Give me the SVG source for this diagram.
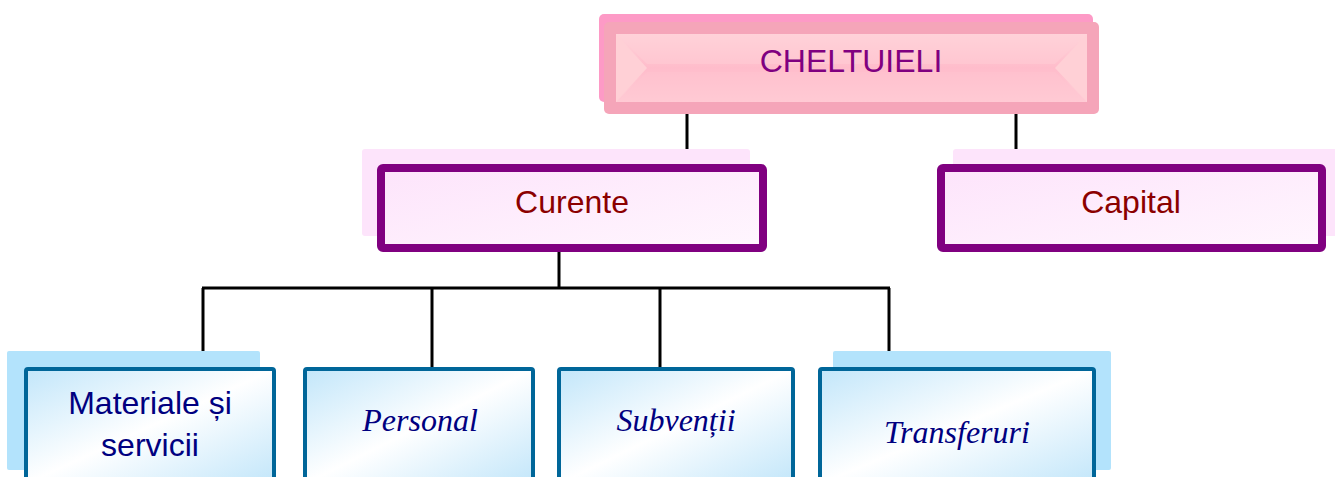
<svg xmlns="http://www.w3.org/2000/svg" width="1335" height="477" viewBox="0 0 1335 477">
<defs>
<linearGradient id="gPurple" x1="0" y1="0" x2="1" y2="1">
<stop offset="0" stop-color="#fde4fb"/>
<stop offset="1" stop-color="#fff6fe"/>
</linearGradient>
<linearGradient id="gBlue" x1="0" y1="0" x2="1" y2="1">
<stop offset="0" stop-color="#c2e6fa"/>
<stop offset="0.5" stop-color="#ffffff"/>
<stop offset="1" stop-color="#c2e6fa"/>
</linearGradient>
<linearGradient id="gPinkV" x1="0" y1="0" x2="0" y2="1">
<stop offset="0" stop-color="#ffd6dc"/>
<stop offset="0.5" stop-color="#ffbccb"/>
<stop offset="1" stop-color="#ffd0d8"/>
</linearGradient>
</defs>
<style>
.conn{stroke:#000;stroke-width:3;fill:none}
.shadowP{fill:#fde4fb}
.boxP{fill:url(#gPurple);stroke:#800080;stroke-width:8}
.shadowB{fill:#b3e3fc}
.boxB{fill:url(#gBlue);stroke:#006699;stroke-width:4}
.tP{font-family:"Liberation Sans",Arial,sans-serif;font-size:32px;fill:#8b0000;text-anchor:middle}
.tTop{font-family:"Liberation Sans",Arial,sans-serif;font-size:32px;fill:#800080;text-anchor:middle}
.tS{font-family:"Liberation Sans",Arial,sans-serif;font-size:32px;fill:#000080;text-anchor:middle}
.tI{font-family:"Liberation Serif","Times New Roman",serif;font-size:32px;font-style:italic;fill:#000080;text-anchor:middle}
</style>
<g id="connectors">
<line class="conn" x1="687" y1="108" x2="687" y2="149"/>
<line class="conn" x1="1016" y1="108" x2="1016" y2="149"/>
<line class="conn" x1="559" y1="252" x2="559" y2="288"/>
<line class="conn" x1="202" y1="288" x2="890" y2="288"/>
<line class="conn" x1="203" y1="288" x2="203" y2="351"/>
<line class="conn" x1="432" y1="288" x2="432" y2="367"/>
<line class="conn" x1="660" y1="288" x2="660" y2="367"/>
<line class="conn" x1="889" y1="288" x2="889" y2="351"/>
</g>
<g id="cheltuieli">
<rect x="599" y="14" width="494" height="88" rx="5" fill="#fd9ac6"/>
<rect x="604" y="22" width="495" height="92" rx="5" fill="#f5a5b9"/>
<rect x="616" y="34" width="471" height="68" fill="url(#gPinkV)"/>
<polygon points="616,34 647,68 616,102" fill="#ffd0d6"/>
<polygon points="1087,34 1055,68 1087,102" fill="#ffd0d6"/>
<polygon points="616,34 1087,34 1055,64 647,64" fill="#ffcdd5" opacity="0.5"/>
<polygon points="616,102 1087,102 1055,72 647,72" fill="#ffc4cf" opacity="0.5"/>
<text class="tTop" x="851" y="72">CHELTUIELI</text>
</g>
<g id="curente">
<rect class="shadowP" x="362" y="149" width="388" height="87" rx="3"/>
<rect class="boxP" x="381" y="168" width="382" height="80" rx="2"/>
<text class="tP" x="572" y="213">Curente</text>
</g>
<g id="capital">
<rect class="shadowP" x="953" y="149" width="385" height="87" rx="3"/>
<rect class="boxP" x="941" y="168" width="381" height="80" rx="2"/>
<text class="tP" x="1131" y="213">Capital</text>
</g>
<g id="materiale">
<rect class="shadowB" x="7" y="351" width="253" height="119" rx="2"/>
<rect class="boxB" x="26" y="369" width="248" height="115" rx="2"/>
<text class="tS" x="150" y="414">Materiale și</text>
<text class="tS" x="150" y="456">servicii</text>
</g>
<g id="personal">
<rect class="boxB" x="305" y="369" width="228" height="115" rx="2"/>
<text class="tI" x="420" y="431">Personal</text>
</g>
<g id="subventii">
<rect class="boxB" x="559" y="369" width="234" height="115" rx="2"/>
<text class="tI" x="676" y="431">Subvenții</text>
</g>
<g id="transferuri">
<rect class="shadowB" x="833" y="351" width="278" height="119" rx="2"/>
<rect class="boxB" x="820" y="369" width="274" height="115" rx="2"/>
<text class="tI" x="957" y="443">Transferuri</text>
</g>
</svg>
